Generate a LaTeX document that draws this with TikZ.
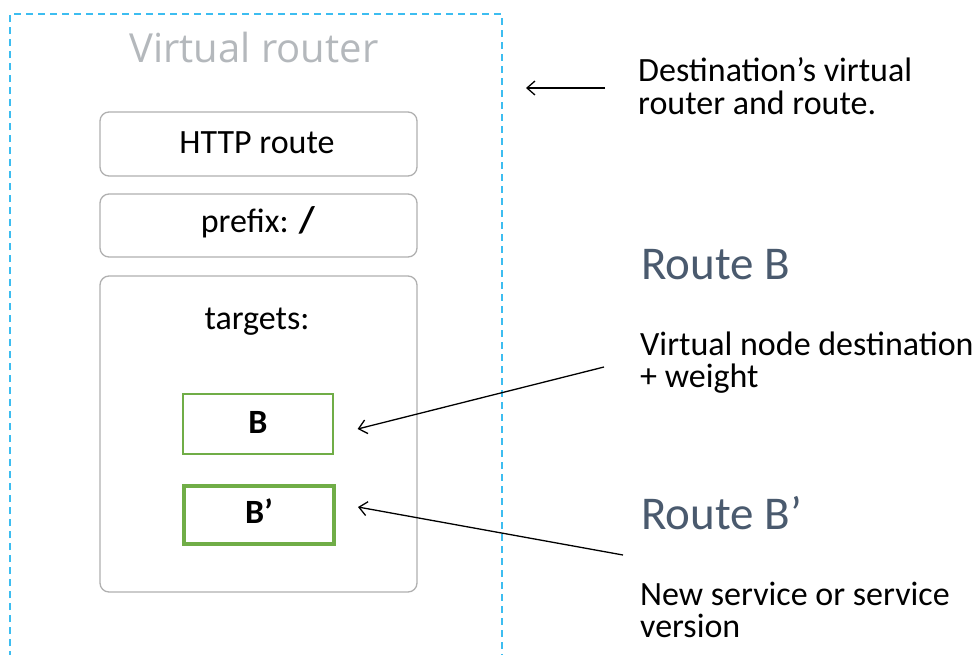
\documentclass[tikz,border=0pt]{standalone}
\usepackage{fontspec}
\setmainfont{Carlito}
\newfontfamily\titlefont{Open Sans}
\usetikzlibrary{arrows.meta}
\definecolor{dashblue}{HTML}{3DBDF0}
\definecolor{titlegray}{HTML}{B4B8BC}
\definecolor{boxgray}{HTML}{B0B0B0}
\definecolor{tgreen}{HTML}{70AD47}
\definecolor{routeblue}{HTML}{4A5A6E}
\tikzset{
  x=1pt, y=-1pt,
  rbox/.style={draw=boxgray, line width=1.3pt, rounded corners=9pt},
  gbox/.style={draw=tgreen, line width=1.2pt},
  gboxthick/.style={draw=tgreen, line width=4pt},
  txt/.style={font=\fontsize{34}{40}\selectfont, inner sep=0pt, anchor=base},
  btxt/.style={font=\bfseries\fontsize{34}{40}\selectfont, inner sep=0pt, anchor=base},
  note/.style={font=\fontsize{34}{40}\selectfont, inner sep=0pt, anchor=base west},
  routelbl/.style={font=\fontsize{47}{52}\selectfont, text=routeblue, inner sep=0pt, anchor=base west},
  conn/.style={draw=black, line width=1.3pt, -{Straight Barb[length=8pt,width=14pt,line width=1.3pt]}},
}
\begin{document}
\begin{tikzpicture}
\useasboundingbox (0,0) rectangle (980,654);
\fill[white] (0,0) rectangle (980,654);
% dashed virtual router frame
\draw[dashblue, line width=1.6pt, dash pattern=on 7pt off 5pt] (10,670) -- (10,14) -- (502,14) -- (502,670);
\node[font=\titlefont\fontsize{40}{46}\selectfont, text=titlegray, inner sep=0pt, anchor=base] (title) at (254,62) {Virtual router};
% boxes
\node[rbox, minimum width=317pt, minimum height=64pt] (http) at (258.5,144) {};
\node[txt] (httpt) at (257,153) {HTTP route};
\node[rbox, minimum width=317pt, minimum height=63pt] (prefix) at (258.5,225.5) {};
\node[txt] (prefixt) at (258,232) {prefix: \textbf{\fontsize{37}{40}\selectfont /}};
\node[rbox, minimum width=317pt, minimum height=316pt] (targets) at (258.5,434) {};
\node[txt] (targetst) at (257,329) {targets:};
\node[gbox, minimum width=150pt, minimum height=60pt] (B) at (258,424) {};
\node[btxt] (Bt) at (258,433) {B};
\node[gboxthick, minimum width=150pt, minimum height=58pt] (Bp) at (259,515) {};
\node[btxt] (Bpt) at (259,523) {B’};
% right side texts
\node[note] (dest1) at (638,81) {Destination’s virtual};
\node[note] (dest2) at (638,114) {router and route.};
\node[routelbl] (routeB) at (641,279) {Route B};
\node[note] (vnd1) at (640,355) {Virtual node destination};
\node[note] (vnd2) at (640,387) {+ weight};
\node[routelbl] (routeBp) at (641,529) {Route B’};
\node[note] (new1) at (640,605) {New service or service};
\node[note] (new2) at (640,637) {version};
% connectors
\coordinate (a1s) at (605,88);
\coordinate (a1e) at (526,88);
\coordinate (a2s) at (604,367);
\coordinate (a3s) at (623,555);
\draw[conn] (a1s) -- (a1e);
\draw[conn] (a2s) -- ([xshift=24pt,yshift=-5pt]B.east);
\draw[conn] (a3s) -- ([xshift=22pt,yshift=8pt]Bp.east);
\end{tikzpicture}
\end{document}
